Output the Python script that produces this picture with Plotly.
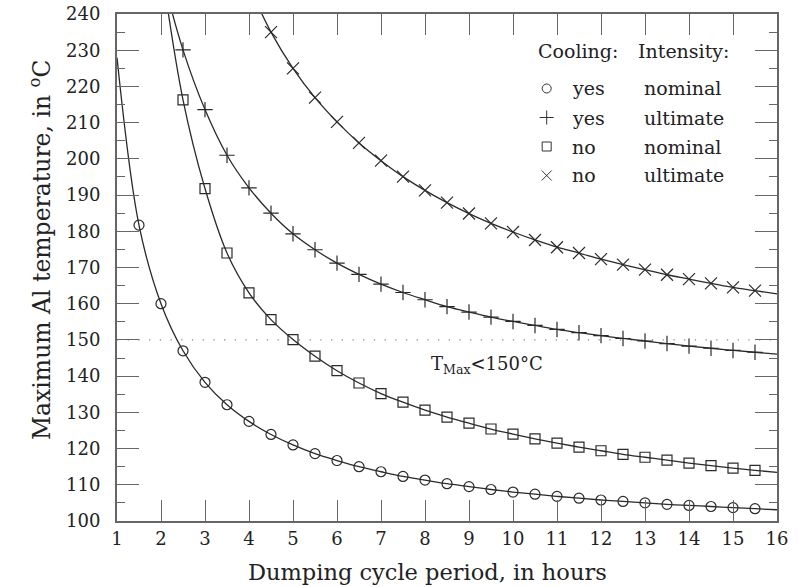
import plotly.graph_objects as go

# ---------------- data ----------------
hours_circ = [1.0, 1.5, 2.0, 2.5, 3.0, 3.5, 4.0, 4.5, 5.0, 5.5, 6.0, 6.5, 7.0, 7.5, 8.0,
              8.5, 9.0, 9.5, 10.0, 10.5, 11.0, 11.5, 12.0, 12.5, 13.0, 13.5, 14.0,
              14.5, 15.0, 15.5, 16.0]
yes_nominal = [228.0, 181.7, 160.0, 147.0, 138.3, 132.1, 127.5, 123.9, 121.0, 118.6,
               116.7, 115.0, 113.6, 112.3, 111.3, 110.3, 109.5, 108.7, 108.0, 107.4,
               106.8, 106.3, 105.8, 105.4, 105.0, 104.6, 104.3, 104.0, 103.7, 103.4, 103.1]

hours_from2 = [2.0, 2.5, 3.0, 3.5, 4.0, 4.5, 5.0, 5.5, 6.0, 6.5, 7.0, 7.5, 8.0, 8.5,
               9.0, 9.5, 10.0, 10.5, 11.0, 11.5, 12.0, 12.5, 13.0, 13.5, 14.0, 14.5,
               15.0, 15.5, 16.0]
yes_ultimate = [252.0, 230.1, 213.6, 201.0, 192.0, 185.0, 179.3, 174.9, 171.2, 168.1,
                165.4, 163.1, 161.1, 159.2, 157.7, 156.3, 155.1, 154.0, 152.9, 152.0,
                151.2, 150.4, 149.7, 149.0, 148.3, 147.7, 147.1, 146.6, 146.1]
no_nominal = [254.0, 216.3, 191.8, 174.0, 163.0, 155.6, 150.1, 145.5, 141.5, 138.1,
              135.2, 132.8, 130.6, 128.7, 127.0, 125.4, 124.0, 122.7, 121.5, 120.4,
              119.4, 118.4, 117.6, 116.8, 116.0, 115.3, 114.6, 114.0, 113.4]

hours_from4 = [4.0, 4.5, 5.0, 5.5, 6.0, 6.5, 7.0, 7.5, 8.0, 8.5, 9.0, 9.5, 10.0, 10.5,
               11.0, 11.5, 12.0, 12.5, 13.0, 13.5, 14.0, 14.5, 15.0, 15.5, 16.0]
no_ultimate = [247.7, 235.0, 225.0, 216.9, 210.2, 204.4, 199.5, 195.1, 191.3, 187.9,
               184.9, 182.2, 179.8, 177.6, 175.6, 174.0, 172.3, 170.8, 169.4, 168.0,
               166.8, 165.6, 164.5, 163.6, 162.7]

limit_x = [1, 16]
limit_y = [150, 150]

x_ticks = list(range(1, 17))
y_ticks = list(range(100, 241, 10))

legend_cooling = ["yes", "yes", "no", "no"]
legend_intensity = ["nominal", "ultimate", "nominal", "ultimate"]
legend_symbols = ["circle-open", "cross-thin-open", "square-open", "x-thin-open"]

# ---------------- styling ----------------
FONT = "DejaVu Serif"
LINE_C = "#2a2a2a"
AX_C = "#666666"
TXT_C = "#222222"

# plot area in pixels
PL, PR, PT, PB = 117, 777, 14, 521

fig = go.Figure()

# limit line
fig.add_trace(go.Scatter(x=limit_x, y=limit_y, mode="lines",
                         line=dict(color="#888888", width=1.3, dash="1.3px,9.4px"),
                         hoverinfo="skip", showlegend=False))

series = [
    (hours_circ, yes_nominal, "circle-open", 10),
    (hours_from2, yes_ultimate, "cross-thin-open", 11),
    (hours_from2, no_nominal, "square-open", 10),
    (hours_from4, no_ultimate, "x-thin-open", 12),
]
for xs, ys, sym, size in series:
    fig.add_trace(go.Scatter(x=xs, y=ys, mode="lines", line_shape="spline",
                             line=dict(color=LINE_C, width=1.3, smoothing=1.0),
                             showlegend=False, hoverinfo="skip"))
    fig.add_trace(go.Scatter(x=xs[1:-1], y=ys[1:-1], mode="markers",
                             marker=dict(symbol=sym, size=size, color=LINE_C,
                                         line=dict(color=LINE_C, width=1.2)),
                             showlegend=False))

row_py = [88.5, 117.5, 146.5, 175.5]
# legend markers on an invisible overlay axis (0..1 = plot area)
leg_y = [(PB - py) / (PB - PT) for py in row_py]
leg_x = (546.7 - PL) / (PR - PL)
for sym, yy, size in zip(legend_symbols, leg_y, [9, 10, 9, 10]):
    fig.add_trace(go.Scatter(x=[leg_x], y=[yy], mode="markers", xaxis="x2", yaxis="y2",
                             marker=dict(symbol=sym, size=size, color="#333333",
                                         line=dict(color="#333333", width=1)),
                             showlegend=False, hoverinfo="skip"))

annotations = []
def ann(text, px, py, size=19, xanchor="left", textangle=0):
    annotations.append(dict(text=text, x=(px - PL) / (PR - PL), y=(PB - py) / (PB - PT),
                            xref="paper", yref="paper", xanchor=xanchor, yanchor="middle",
                            showarrow=False, textangle=textangle,
                            font=dict(family=FONT, size=size, color=TXT_C)))

ann("Cooling:", 536, 51)
ann("Intensity:", 636, 51)
for c, i, py in zip(legend_cooling, legend_intensity, row_py):
    ann(c, 570, py)
    ann(i, 641.5, py)

# axis titles
ann("Dumping cycle period, in hours", 427, 572, size=22.5, xanchor="center")
ann("Maximum Al temperature, in <sup>o</sup>C", 40, 250, size=23.5, xanchor="center",
    textangle=-90)

annotations.append(dict(text="T<sub>Max</sub><150°C", x=8.1, y=143.0, xref="x", yref="y",
                        xanchor="left", yanchor="middle", showarrow=False,
                        font=dict(family=FONT, size=18, color=TXT_C)))

fig.update_layout(
    width=798, height=587,
    margin=dict(l=PL, r=798 - PR, t=PT, b=587 - PB),
    paper_bgcolor="white", plot_bgcolor="white",
    font=dict(family=FONT, color=TXT_C),
    annotations=annotations,
    xaxis=dict(range=[1, 16], tickvals=x_ticks, ticks="inside", ticklen=21,
               tickwidth=1.2, tickcolor=AX_C, showline=True, linecolor=AX_C,
               linewidth=2, mirror="allticks", showgrid=False, zeroline=False,
               automargin=False,
               tickfont=dict(family=FONT, size=18, color=TXT_C)),
    yaxis=dict(range=[100, 240], tickvals=y_ticks, ticks="inside", ticklen=22,
               tickwidth=1.2, tickcolor=AX_C, showline=True, linecolor=AX_C,
               linewidth=2, mirror="allticks", showgrid=False, zeroline=False,
               ticklabelstandoff=11, automargin=False,
               minor=dict(dtick=5, tick0=100, ticks="inside", ticklen=8,
                          tickwidth=1.2, tickcolor=AX_C, showgrid=False),
               tickfont=dict(family=FONT, size=18, color=TXT_C)),
    xaxis2=dict(range=[0, 1], overlaying="x", visible=False, anchor="y2"),
    yaxis2=dict(range=[0, 1], overlaying="y", visible=False, anchor="x2"),
)

fig.write_html("out.html")
